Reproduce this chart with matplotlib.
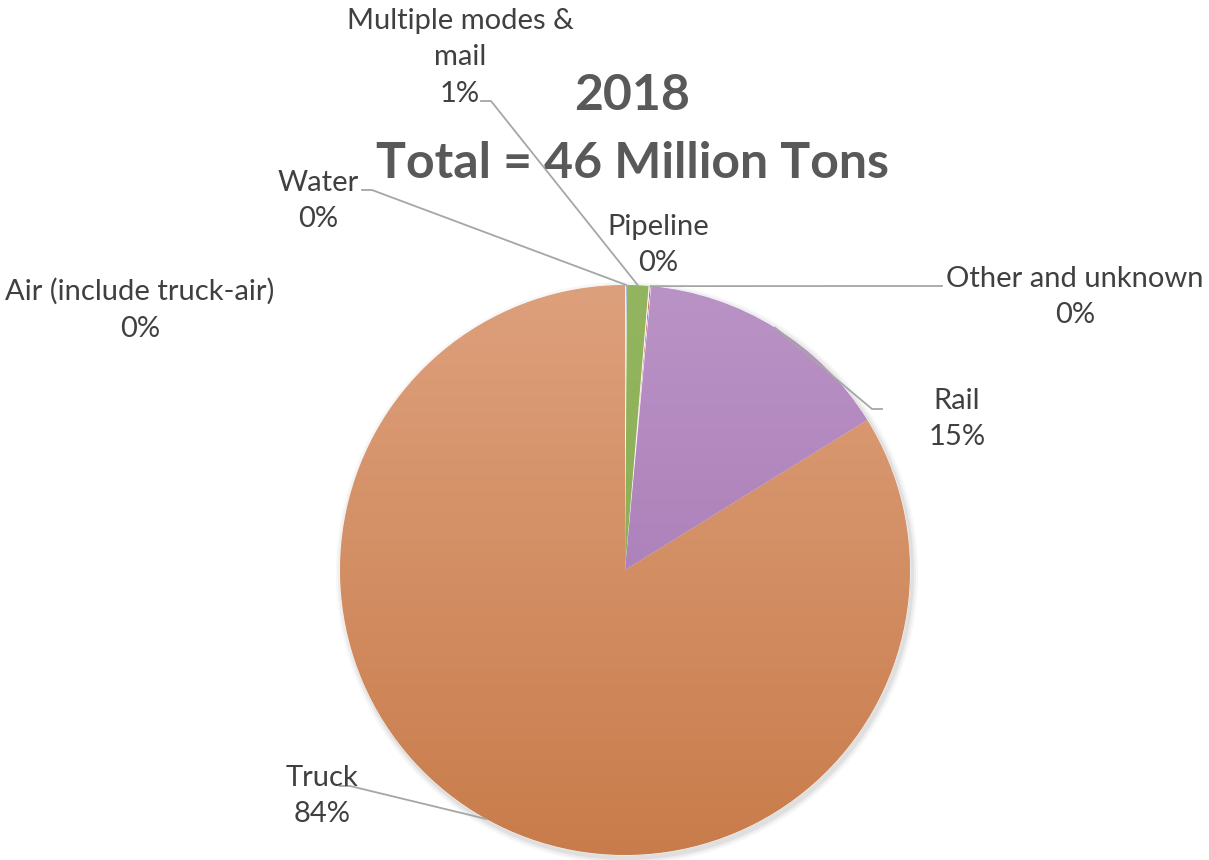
import matplotlib
matplotlib.use("Agg")
import matplotlib.pyplot as plt
import matplotlib.patches as mpatches
import numpy as np

# share of 2018 tonnage by mode (percent)
modes = ["Air (include truck-air)", "Water", "Multiple modes &\nmail", "Pipeline",
         "Other and unknown", "Rail", "Truck"]
shares = [0.02, 0.1, 1.2, 0.05, 0.1, 14.7, 83.8]
colors = ["#5B9BD5", "#4472C4", "#8FB05A", "#7F6000", "#C0504D", "#B089C0", "#D58E5E"]
title_year = "2018"
title_total = "Total = 46 Million Tons"

plt.rcParams['font.family'] = ['Lato', 'DejaVu Sans']

W, H = 1209, 860
fig = plt.figure(figsize=(W / 100, H / 100), dpi=100)
ax = fig.add_axes([0, 0, 1, 1])

cx, cy, r = 625, 290, 285

# soft shadow under the pie
for k, a in [(6, 0.06), (4, 0.08), (2, 0.12)]:
    ax.add_patch(mpatches.Circle((cx + 2, cy - 3), r + k, color="#7f7f7f", alpha=a, lw=0, zorder=1))

wedges, _ = ax.pie(shares, center=(cx, cy), radius=r, startangle=90, counterclock=False,
                   colors=colors, wedgeprops=dict(edgecolor="white", linewidth=0.6))
for w in wedges:
    w.set_zorder(2)

# vertical gradients for the large slices
def gradient(wedge, top, bottom):
    top = np.array(matplotlib.colors.to_rgb(top))
    bottom = np.array(matplotlib.colors.to_rgb(bottom))
    t = np.linspace(0, 1, 256)[:, None]
    img = (top * (1 - t) + bottom * t)[:, None, :]
    im = ax.imshow(img, extent=(cx - r, cx + r, cy - r, cy + r), origin="upper",
                   aspect="auto", zorder=2.5)
    im.set_clip_path(wedge)

gradient(wedges[6], "#DDA07C", "#C97C4B")
gradient(wedges[5], "#BA93C6", "#A270AE")
gradient(wedges[2], "#93B55F", "#86A94E")

ax.set_xlim(0, W)
ax.set_ylim(0, H)
ax.set_aspect("equal")
ax.axis("off")

total = sum(shares)
# label placement (pixel coords from top) and leader line elbows
label_pos = {
    "Air (include truck-air)": (140, 310, None),
    "Water": (318, 201, (362, 190)),
    "Multiple modes &\nmail": (460, 57, (481, 101)),
    "Pipeline": (658, 245, None),
    "Other and unknown": (1075, 297, (942, 286)),
    "Rail": (957, 419, (882, 409)),
    "Truck": (322, 796, (340, 786)),
}
txt_color = "#404040"
for w, name, val in zip(wedges, modes, shares):
    x, y, elbow = label_pos[name]
    pct = "%d%%" % round(val / total * 100)
    ax.text(x, H - y, name + "\n" + pct, ha="center", va="center", fontsize=21,
            color=txt_color, linespacing=1.5, zorder=5)
    if elbow is not None:
        mid = np.deg2rad((w.theta1 + w.theta2) / 2)
        px, py = cx + r * np.cos(mid), cy + r * np.sin(mid)
        ex, ey = elbow[0], H - elbow[1]
        step = 10 if ex < px else -10
        ax.plot([ex, ex + step, px], [ey, ey, py], color="#A6A6A6", lw=1.3, zorder=4)

ax.text(632, H - 96, title_year, ha="center", va="center", fontsize=36,
        fontweight="bold", color="#595959", zorder=6)
ax.text(632, H - 164, title_total, ha="center", va="center", fontsize=36,
        fontweight="bold", color="#595959", zorder=6)

fig.savefig("out.png", dpi=100)
